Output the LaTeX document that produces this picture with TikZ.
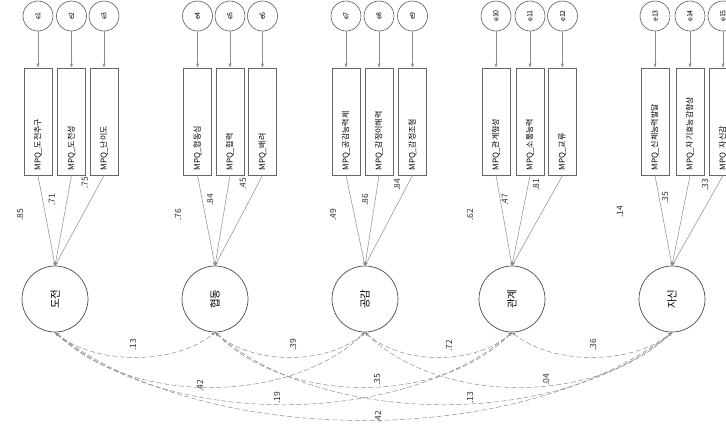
\documentclass[tikz,border=0pt]{standalone}
\usepackage{fontspec}
\setmainfont{Noto Sans CJK KR}
\usetikzlibrary{arrows.meta}
\begin{document}
\begin{tikzpicture}[x=1pt,y=1pt,
 err/.style={circle,draw=black!65,line width=0.6pt,minimum size=30pt,inner sep=0pt,font=\fontsize{7}{7}\selectfont},
 obs/.style={rectangle,draw=black!60,line width=1pt,minimum width=28pt,minimum height=107pt,inner sep=0pt},
 lat/.style={circle,draw=black!70,line width=0.7pt,minimum size=66pt,inner sep=0pt,font=\fontsize{10.5}{11}\selectfont},
 obstxt/.style={rotate=90,anchor=west,inner sep=0pt,font=\fontsize{8}{9}\selectfont},
 num/.style={rotate=90,inner sep=1pt,font=\fontsize{8.5}{9}\selectfont,text=black!80},
 arr/.style={draw=black!45,line width=0.5pt,-{Stealth[length=4pt,width=3pt]}},
 cov/.style={draw=black!45,line width=0.5pt,dash pattern=on 5pt off 2.5pt,{Stealth[length=4pt,width=3pt]}-{Stealth[length=4pt,width=3pt]}}
]
\useasboundingbox (0,0) rectangle (726,-432);
\clip (0,0) rectangle (726,-432);
\fill[white] (0,0) rectangle (726,-432);

% error terms
\foreach \i/\x in {1/38,2/71.5,3/104,4/197.5,5/230,6/262.5,7/346,8/379,9/412.5,10/496,11/530,12/562.5,13/655,14/690,15/723}{
  \node[err] (e\i) at (\x,-16) {\rotatebox{90}{e\i}};
  \node[obs] (b\i) at (\x,-121.5) {};
  \draw[arr] (e\i.south) -- (b\i.north);
}

% indicator labels
\node[obstxt] at ([yshift=5pt]b1.south) {MPQ\_도전추구};
\node[obstxt] at ([yshift=5pt]b2.south) {MPQ\_도전성};
\node[obstxt] at ([yshift=5pt]b3.south) {MPQ\_난이도};
\node[obstxt] at ([yshift=5pt]b4.south) {MPQ\_협동심};
\node[obstxt] at ([yshift=5pt]b5.south) {MPQ\_협력};
\node[obstxt] at ([yshift=5pt]b6.south) {MPQ\_배려};
\node[obstxt] at ([yshift=5pt]b7.south) {MPQ\_공감능력제};
\node[obstxt] at ([yshift=5pt]b8.south) {MPQ\_감정이해력};
\node[obstxt] at ([yshift=5pt]b9.south) {MPQ\_감정조절};
\node[obstxt] at ([yshift=5pt]b10.south) {MPQ\_관계형성};
\node[obstxt] at ([yshift=5pt]b11.south) {MPQ\_소통능력};
\node[obstxt] at ([yshift=5pt]b12.south) {MPQ\_교류};
\node[obstxt] at ([yshift=5pt]b13.south) {MPQ\_신체능력발달};
\node[obstxt] at ([yshift=5pt]b14.south) {MPQ\_자기효능감향상};
\node[obstxt] at ([yshift=5pt]b15.south) {MPQ\_자신감};

% latent variables
\node[lat] (l1) at (55,-299) {\rotatebox{90}{도전}};
\node[lat] (l2) at (215,-299) {\rotatebox{90}{협동}};
\node[lat] (l3) at (365,-299) {\rotatebox{90}{공감}};
\node[lat] (l4) at (512,-299) {\rotatebox{90}{관계}};
\node[lat] (l5) at (672,-299) {\rotatebox{90}{자신}};

% loadings
\foreach \b/\l in {1/1,2/1,3/1,4/2,5/2,6/2,7/3,8/3,9/3,10/4,11/4,12/4,13/5,14/5,15/5}{
  \draw[arr] (b\b.south) -- (l\l.north);
}

% loading values
\node[num] at (20,-215) {.85};  \node[num] at (52,-200) {.71};  \node[num] at (85,-183) {.75};
\node[num] at (178,-215) {.76}; \node[num] at (210,-200) {.84}; \node[num] at (243,-184) {.45};
\node[num] at (333,-215) {.49}; \node[num] at (365,-200) {.86}; \node[num] at (397,-185) {.84};
\node[num] at (470,-215) {.62}; \node[num] at (505,-200) {.47}; \node[num] at (536,-185) {.81};
\node[num] at (620,-212) {.14}; \node[num] at (665,-198) {.35}; \node[num] at (705,-185) {.33};

% covariances
\draw[cov] (l1.south) .. controls +(40,-33) and +(-40,-33) .. (l2.south);
\draw[cov] (l2.south) .. controls +(38,-33) and +(-38,-33) .. (l3.south);
\draw[cov] (l3.south) .. controls +(37,-33) and +(-37,-33) .. (l4.south);
\draw[cov] (l4.south) .. controls +(40,-33) and +(-40,-33) .. (l5.south);
\draw[cov] (l1.south) .. controls +(75,-73) and +(-75,-73) .. (l3.south);
\draw[cov] (l2.south) .. controls +(72,-73) and +(-72,-73) .. (l4.south);
\draw[cov] (l3.south) .. controls +(75,-73) and +(-75,-73) .. (l5.south);
\draw[cov] (l1.south) .. controls +(110,-96) and +(-110,-96) .. (l4.south);
\draw[cov] (l2.south) .. controls +(110,-96) and +(-110,-96) .. (l5.south);
\draw[cov] (l1.south) .. controls +(150,-117) and +(-150,-117) .. (l5.south);

% covariance values
\node[num] at (133,-345) {.13};
\node[num] at (293,-345) {.39};
\node[num] at (449,-346) {.72};
\node[num] at (593,-345) {.36};
\node[num] at (200,-386) {.42};
\node[num] at (377,-380) {.35};
\node[num] at (546,-380) {.04};
\node[num] at (277,-398) {.19};
\node[num] at (470,-398) {.13};
\node[num] at (378,-417) {.42};
\end{tikzpicture}
\end{document}
